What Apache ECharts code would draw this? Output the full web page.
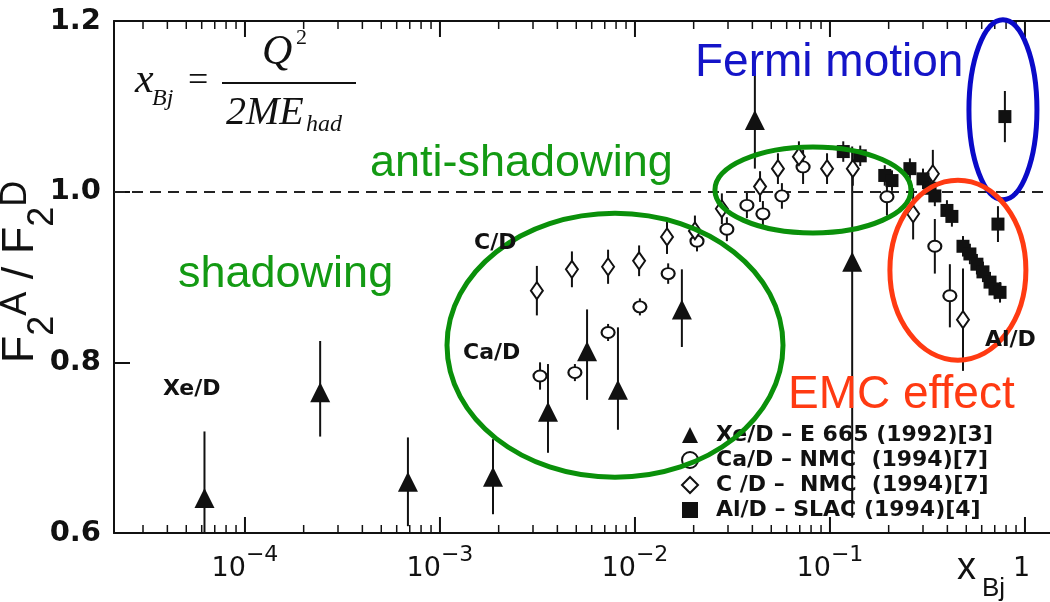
<!DOCTYPE html>
<html>
<head>
<meta charset="utf-8">
<script src="https://cdn.jsdelivr.net/npm/echarts@6/dist/echarts.min.js"></script>
<style>html,body{margin:0;padding:0;background:#fff}#c{width:1050px;height:602px}</style>
</head>
<body>
<div id="c"></div>
<script>
// ---- data ----
const seriesNames = ['Xe/D – E 665 (1992)[3]', 'Ca/D – NMC  (1994)[7]', 'C /D –  NMC  (1994)[7]', 'Al/D – SLAC (1994)[4]'];

const xeX = [6.2e-5, 2.43e-4, 6.85e-4, 1.87e-3, 3.58e-3, 5.68e-3, 8.18e-3, 1.74e-2, 4.12e-2, 0.130];
const xeY = [0.641, 0.765, 0.660, 0.666, 0.742, 0.813, 0.768, 0.862, 1.084, 0.918];
const xeErrUp = [0.078, 0.060, 0.052, 0.044, 0.056, 0.049, 0.073, 0.047, 0.055, 0.135];
const xeErrDn = [0.078, 0.052, 0.052, 0.044, 0.048, 0.057, 0.047, 0.044, 0.057, 0.300];

const caX = [3.26e-3, 4.92e-3, 7.28e-3, 1.06e-2, 1.48e-2, 2.08e-2, 2.96e-2, 3.75e-2, 4.53e-2, 5.67e-2, 7.28e-2, 0.196, 0.345, 0.412];
const caY = [0.784, 0.788, 0.835, 0.865, 0.904, 0.942, 0.956, 0.984, 0.974, 0.995, 1.029, 0.994, 0.936, 0.878];
const caErr = [0.016, 0.010, 0.010, 0.010, 0.012, 0.012, 0.014, 0.015, 0.015, 0.015, 0.020, 0.022, 0.032, 0.037];

const cX = [3.14e-3, 4.75e-3, 7.28e-3, 1.05e-2, 1.46e-2, 2.03e-2, 2.79e-2, 4.38e-2, 5.41e-2, 6.93e-2, 9.66e-2, 0.131, 0.267, 0.337, 0.481];
const cY = [0.884, 0.909, 0.912, 0.919, 0.947, 0.954, 0.980, 1.006, 1.027, 1.041, 1.027, 1.027, 0.974, 1.021, 0.850];
const cErr = [0.029, 0.021, 0.020, 0.018, 0.020, 0.018, 0.018, 0.018, 0.018, 0.018, 0.018, 0.020, 0.030, 0.028, 0.060];

const alX = [0.117, 0.143, 0.191, 0.208, 0.257, 0.300, 0.326, 0.345, 0.398, 0.422, 0.481, 0.522, 0.567, 0.609, 0.662, 0.702, 0.745, 0.727, 0.789];
const alY = [1.047, 1.042, 1.019, 1.013, 1.027, 1.015, 1.004, 0.995, 0.978, 0.971, 0.936, 0.927, 0.915, 0.906, 0.894, 0.886, 0.882, 0.962, 1.088];
const alErr = [0.012, 0.012, 0.012, 0.012, 0.012, 0.012, 0.012, 0.012, 0.012, 0.012, 0.012, 0.012, 0.012, 0.012, 0.012, 0.012, 0.012, 0.021, 0.030];

// axis ranges and tick values
const xMin = 2.13e-5, xMax = 1.344;
const yMin = 0.6, yMax = 1.2, yInterval = 0.2;
const refLine = 1.0;
const xMajorTicks = [1e-4, 1e-3, 1e-2, 1e-1, 1];
const xMinorTicks = [3e-5, 4e-5, 5e-5, 6e-5, 7e-5, 8e-5, 9e-5,
  2e-4, 3e-4, 4e-4, 5e-4, 6e-4, 7e-4, 8e-4, 9e-4,
  2e-3, 3e-3, 4e-3, 5e-3, 6e-3, 7e-3, 8e-3, 9e-3,
  2e-2, 3e-2, 4e-2, 5e-2, 6e-2, 7e-2, 8e-2, 9e-2,
  0.2, 0.3, 0.4, 0.5, 0.6, 0.7, 0.8, 0.9];

// annotation ellipses: centre in data units, radii in px
const ellipses = [
  {x: 7.90e-3, y: 0.820, rx: 168, ry: 132, color: '#0a900a'},
  {x: 0.0818, y: 1.002, rx: 98, ry: 43, color: '#0a900a'},
  {x: 0.771, y: 1.096, rx: 34, ry: 90, color: '#0a0ac8'},
  {x: 0.453, y: 0.908, rx: 68, ry: 90, color: '#ff3a12'}
];

// ---- chart ----
const chart = echarts.init(document.getElementById('c'), null, {renderer: 'canvas'});
const INK = '#111';

function pts(xs, ys) { return xs.map((x, i) => [x, ys[i]]); }
function errData(xs, ys, up, dn) { return xs.map((x, i) => [x, ys[i] - dn[i], ys[i] + up[i]]); }
function errSeries(data) {
  return {
    type: 'custom', silent: true, clip: true, z: 2,
    encode: {x: 0, y: [1, 2]},
    data: data,
    renderItem: function (params, api) {
      const a = api.coord([api.value(0), api.value(1)]);
      const b = api.coord([api.value(0), api.value(2)]);
      return {type: 'line', shape: {x1: a[0], y1: a[1], x2: b[0], y2: b[1]}, style: {stroke: INK, lineWidth: 2}};
    }
  };
}
// frame ticks as small bar symbols sitting on the bottom / top axis
function tickMarks(vals, yv, len, width, dir) {
  return {
    type: 'scatter', silent: true, clip: false, z: 8,
    data: vals.map(v => [v, yv]),
    symbol: 'rect', symbolSize: [width, len], symbolOffset: [0, dir * len / 2],
    itemStyle: {color: INK, opacity: 1},
    emphasis: {disabled: true}
  };
}

const xLabelFmt = function (v) {
  const e = Math.round(Math.log10(v));
  if (e === 0) return '{b|1}{s| }';
  return '{b|10}{s|−' + (-e) + '}';
};

function makeX(pos, labels) {
  return {
    type: 'log', logBase: 10, min: xMin, max: xMax, position: pos,
    axisLine: {show: true, lineStyle: {color: INK, width: 2}},
    axisTick: {show: false},
    splitLine: {show: false},
    axisLabel: labels ? {
      show: true, margin: 3, showMinLabel: false, showMaxLabel: false,
      formatter: xLabelFmt,
      rich: {
        b: {fontFamily: 'DejaVu Sans', fontSize: 27, lineHeight: 46, color: INK, verticalAlign: 'bottom'},
        s: {fontFamily: 'DejaVu Sans', fontSize: 22, lineHeight: 22, color: INK, verticalAlign: 'top', padding: [8, 0, 0, 0]}
      }
    } : {show: false}
  };
}

const option = {
  backgroundColor: '#fff',
  animation: false,
  grid: {left: 114, right: 0, top: 21, bottom: 69, containLabel: false, outerBoundsMode: 'none'},
  legend: {
    orient: 'vertical', left: 676, top: 419,
    itemWidth: 16, itemHeight: 16, itemGap: 3,
    selectedMode: false,
    textStyle: {fontFamily: 'DejaVu Sans', fontWeight: 'bold', fontSize: 22, color: INK, padding: [0, 0, 0, 13]},
    data: seriesNames
  },
  xAxis: [makeX('bottom', true), makeX('top', false)],
  yAxis: [{
    type: 'value', min: yMin, max: yMax, interval: yInterval,
    axisLine: {show: true, lineStyle: {color: INK, width: 2}},
    axisTick: {show: true, inside: true, length: 16, lineStyle: {color: INK, width: 2}},
    splitLine: {show: false},
    axisLabel: {
      margin: 13, color: INK, fontFamily: 'DejaVu Sans', fontWeight: 'bold', fontSize: 29,
      formatter: v => v.toFixed(1)
    },
    name: '{pad|}{f|F}{sub|2}{sup|A}{f| / F}{sub|2}{sup|D}',
    nameLocation: 'middle', nameRotate: 90, nameGap: 53, nameMoveOverlap: false,
    nameTextStyle: {
      rich: {
        pad: {width: 10, lineHeight: 80},
        f: {fontFamily: 'Liberation Sans', fontSize: 45, lineHeight: 80, color: INK, verticalAlign: 'middle'},
        sub: {fontFamily: 'Liberation Sans', fontSize: 36, lineHeight: 36, color: INK, verticalAlign: 'bottom'},
        sup: {fontFamily: 'Liberation Sans', fontSize: 36, lineHeight: 36, color: INK, verticalAlign: 'top', padding: [17, 0, 0, 0]}
      }
    }
  }],
  series: [
    tickMarks(xMajorTicks, yMin, 16, 2, -1),
    tickMarks(xMajorTicks, yMax, 16, 2, 1),
    tickMarks(xMinorTicks, yMin, 8, 1.5, -1),
    tickMarks(xMinorTicks, yMax, 8, 1.5, 1),
    errSeries(errData(xeX, xeY, xeErrUp, xeErrDn)),
    errSeries(errData(caX, caY, caErr, caErr)),
    errSeries(errData(cX, cY, cErr, cErr)),
    errSeries(errData(alX, alY, alErr, alErr)),
    {
      name: seriesNames[0], type: 'scatter', z: 5, data: pts(xeX, xeY),
      symbol: 'triangle', symbolSize: [20, 20],
      itemStyle: {color: INK, opacity: 1},
      markLine: {
        silent: true, symbol: 'none', label: {show: false},
        lineStyle: {color: '#222', width: 2, type: [11, 7]},
        data: [{yAxis: refLine}]
      }
    },
    {
      name: seriesNames[1], type: 'scatter', z: 5, data: pts(caX, caY),
      symbol: 'circle', symbolSize: [13, 11],
      itemStyle: {color: '#fff', borderColor: INK, borderWidth: 2, opacity: 1}
    },
    {
      name: seriesNames[2], type: 'scatter', z: 5, data: pts(cX, cY),
      symbol: 'diamond', symbolSize: [12, 17],
      itemStyle: {color: '#fff', borderColor: INK, borderWidth: 2, opacity: 1}
    },
    {
      name: seriesNames[3], type: 'scatter', z: 6, data: pts(alX, alY),
      symbol: 'rect', symbolSize: [13, 13],
      itemStyle: {color: INK, opacity: 1}
    }
  ]
};
chart.setOption(option);

// ---- annotations ----
const g = [];
ellipses.forEach((e, i) => {
  const p = chart.convertToPixel({xAxisIndex: 0, yAxisIndex: 0}, [e.x, e.y]);
  g.push({type: 'ellipse', id: 'el' + i, z: 20, silent: true,
    shape: {cx: p[0], cy: p[1], rx: e.rx, ry: e.ry},
    style: {fill: 'none', stroke: e.color, lineWidth: 5}});
});
function txt(id, text, x, y, font, fill) {
  return {type: 'text', id: id, z: 21, silent: true, x: x, y: y,
    style: {text: text, font: font, fill: fill, align: 'left', verticalAlign: 'middle'}};
}
const SANS = '"Liberation Sans", Arial, sans-serif';
const SERIF = '"Liberation Serif", "Times New Roman", serif';
g.push(txt('t1', 'Fermi motion', 695, 63, '46px ' + SANS, '#1414c8'));
g.push(txt('t2', 'anti-shadowing', 370, 164, '45px ' + SANS, '#139a13'));
g.push(txt('t3', 'shadowing', 178, 275, '45px ' + SANS, '#139a13'));
g.push(txt('t4', 'EMC effect', 788, 395, '46px ' + SANS, '#ff3a12'));
// dataset tags
const TAG = 'bold 22px "DejaVu Sans"';
g.push(txt('l1', 'C/D', 474, 243, TAG, INK));
g.push(txt('l2', 'Ca/D', 463, 353, TAG, INK));
g.push(txt('l3', 'Xe/D', 163, 389, TAG, INK));
g.push(txt('l4', 'Al/D', 985, 340, TAG, INK));
// x-axis title
g.push(txt('xa1', 'x', 957, 569, '38px ' + SANS, INK));
g.push(txt('xa2', 'Bj', 982, 589, '26px ' + SANS, INK));
// formula
g.push(txt('f1', 'x', 135, 81, 'italic 42px ' + SERIF, INK));
g.push(txt('f2', 'Bj', 152, 99, 'italic 24px ' + SERIF, INK));
g.push(txt('f3', '=', 188, 82, '36px ' + SERIF, INK));
g.push(txt('f4', 'Q', 262, 53, 'italic 42px ' + SERIF, INK));
g.push(txt('f5', '2', 296, 38, '22px ' + SERIF, INK));
g.push({type: 'line', id: 'fbar', z: 21, silent: true, shape: {x1: 222, y1: 83, x2: 356, y2: 83}, style: {stroke: INK, lineWidth: 2}});
g.push(txt('f6', '2ME', 226, 113, 'italic 40px ' + SERIF, INK));
g.push(txt('f7', 'had', 306, 125, 'italic 24px ' + SERIF, INK));
chart.setOption({graphic: g});
</script>
</body>
</html>
